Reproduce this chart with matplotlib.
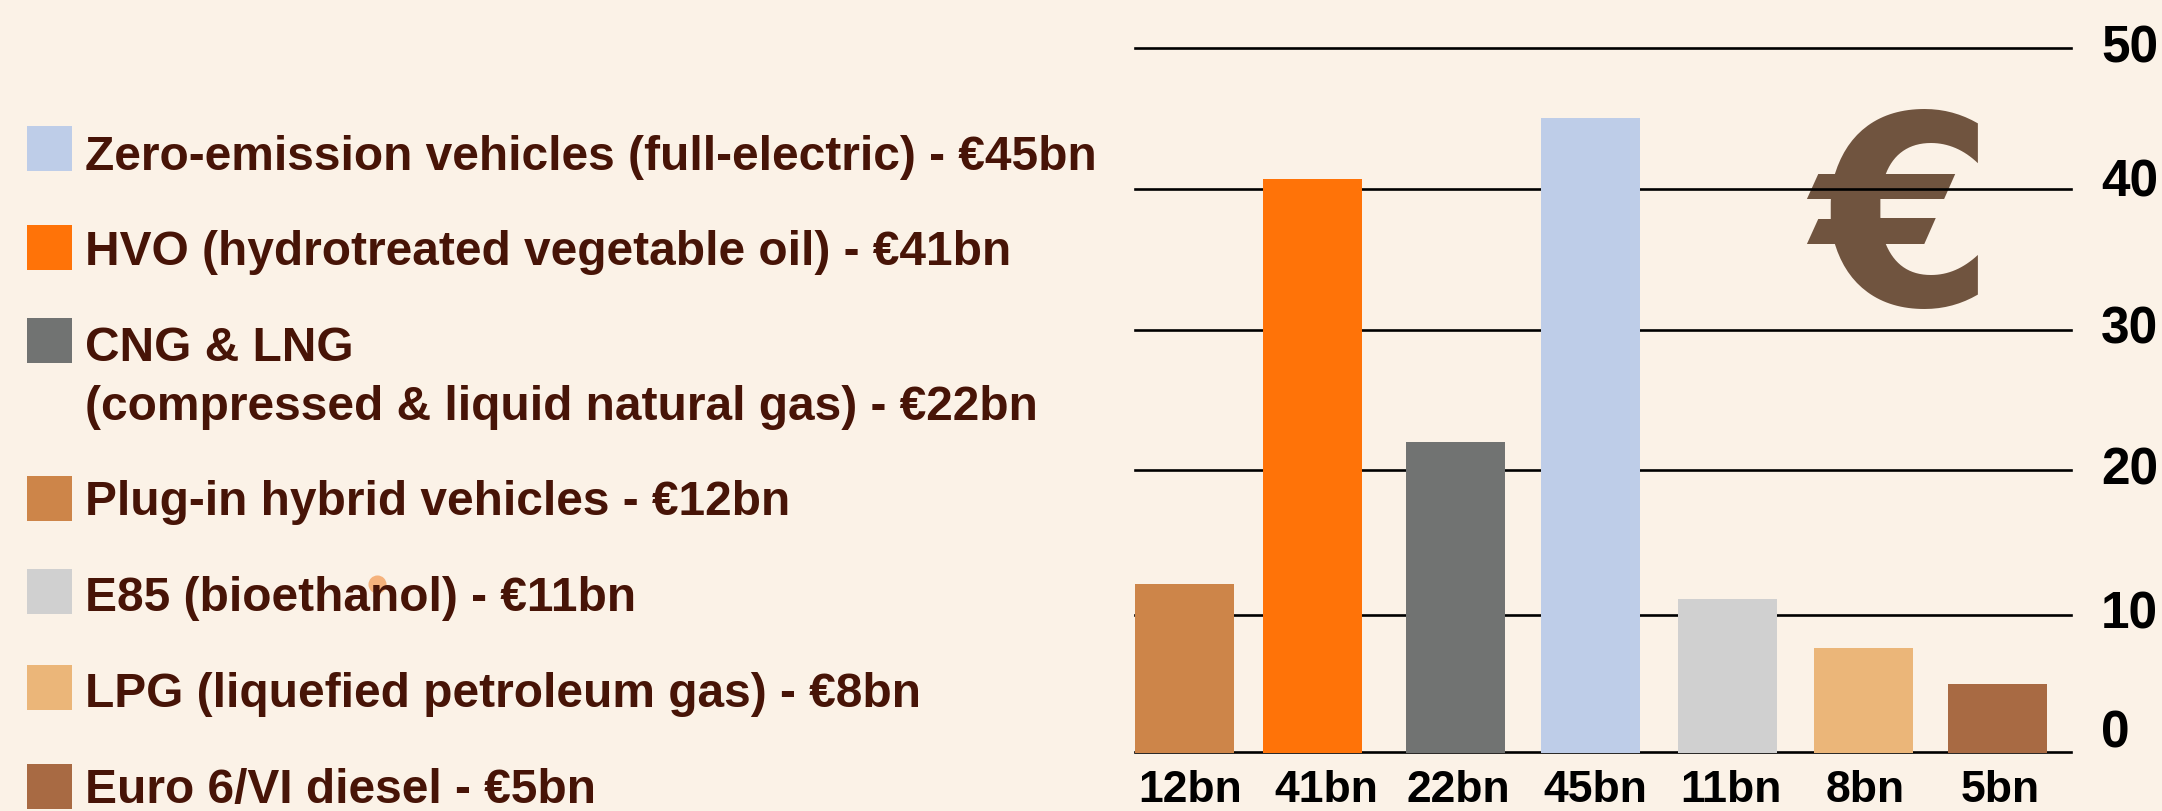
#!/usr/bin/env python3
import matplotlib
matplotlib.use('Agg')
import matplotlib.pyplot as plt
from matplotlib.patches import Rectangle

W, H = 2162, 811
BG = '#FBF2E7'
TEXT = '#471407'

# bars, left to right
bar_labels = ['12bn', '41bn', '22bn', '45bn', '11bn', '8bn', '5bn']
bar_values = [11.9, 40.7, 22.0, 45.0, 10.9, 7.4, 4.8]
bar_colours = ['#CD8549', '#FF7308', '#717372', '#BECDE8', '#D0D0D0', '#EBB679', '#A86A43']
bar_x = [0, 0.95, 2.01, 3.005, 4.02, 5.03, 6.025]
label_x = [0.04, 1.05, 2.03, 3.04, 4.05, 5.04, 6.04]
y_labels = [0, 10, 20, 30, 40, 50]
grid_y = [0, 9.75, 20, 30, 40, 50]
y_label_pos = [1.25, 9.75, 19.95, 30.0, 40.4, 49.9]

# legend, top to bottom
legend_labels = ['Zero-emission vehicles (full-electric) - €45bn',
                 'HVO (hydrotreated vegetable oil) - €41bn',
                 'CNG & LNG\n(compressed & liquid natural gas) - €22bn',
                 'Plug-in hybrid vehicles - €12bn',
                 'E85 (bioethanol) - €11bn',
                 'LPG (liquefied petroleum gas) - €8bn',
                 'Euro 6/VI diesel - €5bn']
legend_colours = ['#BECDE8', '#FF7308', '#717372', '#CD8549', '#D0D0D0', '#EBB679', '#A86A43']
legend_top = [126, 225, 318, 476, 569, 665, 764]
legend_base = [170, 265, 361, 515, 611, 707, 803]

plt.rcParams['font.family'] = ['Liberation Sans', 'DejaVu Sans']
plt.rcParams['font.weight'] = 'bold'

fig = plt.figure(figsize=(W / 100, H / 100), dpi=100, facecolor=BG)


def fx(x):
    return x / W


def fy(y):
    return 1 - y / H


# axes: x 1135..2071 px, y 752 (0) .. 48 (50) px
ax = fig.add_axes([fx(1135), fy(752), (2071 - 1135) / W, (752 - 48) / H])
ax.set_facecolor('none')
for s in ax.spines.values():
    s.set_visible(False)
ax.set_xlim(-0.367, 6.567)
ax.set_ylim(0, 50)
ax.set_yticks(grid_y)
ax.set_yticklabels([])
ax.tick_params(axis='y', length=0)
ax.yaxis.grid(True, color='black', lw=1.9)
ax.set_axisbelow(False)
for line in ax.get_ygridlines():
    line.set_clip_on(False)
for v, c, x in zip(bar_values, bar_colours, bar_x):
    ax.bar(x, v + 0.07, bottom=-0.07, width=0.733, color=c, zorder=3, clip_on=False)
ax.set_xticks(label_x)
ax.set_xticklabels(bar_labels, fontsize=32, fontweight='bold', color='black')
ax.tick_params(axis='x', length=0, pad=13)
for t, p in zip(y_labels, y_label_pos):
    ax.text(1.032, p, str(t), transform=ax.get_yaxis_transform(), fontsize=37, fontweight='bold',
            color='black', ha='left', va='center')

# big euro sign, under the grid lines
ax.text(fx(1903), fy(232), '€', transform=fig.transFigure, family='DejaVu Sans', fontsize=190,
        fontweight='bold', color='#70543F', ha='center', va='center', zorder=1, clip_on=False)

# stray dot behind the E85 legend text
fig.add_artist(plt.Line2D([fx(377)], [fy(584)], marker='o', ms=13, mew=0, color='#F5B27C', zorder=1))

for lab, c, top, base in zip(legend_labels, legend_colours, legend_top, legend_base):
    fig.add_artist(Rectangle((fx(27), fy(top + 45)), 45 / W, 45 / H, color=c, lw=0,
                             transform=fig.transFigure))
    lines = lab.split('\n')
    for i, line in enumerate(lines):
        fig.text(fx(85), fy(base + i * 59), line, fontsize=34.5, fontweight='bold', color=TEXT,
                 ha='left', va='baseline', zorder=3)

fig.savefig('out.png', dpi=100, facecolor=BG)
